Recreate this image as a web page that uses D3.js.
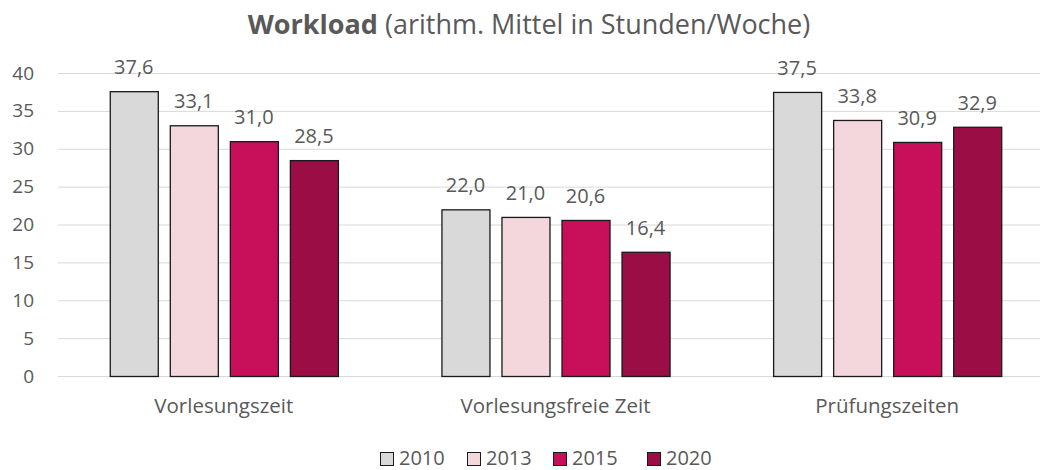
<!DOCTYPE html>
<html>
<head>
<meta charset="utf-8">
<script src="https://cdn.jsdelivr.net/npm/d3@7"></script>
<style>
  body { margin: 0; background: #fff; }
  text { font-family: "Open Sans", "Noto Sans", sans-serif; fill: #595959; }
</style>
</head>
<body>
<svg id="canvas" width="1040" height="470"></svg>
<script>
const categories = ['Vorlesungszeit', 'Vorlesungsfreie Zeit', 'Prüfungszeiten'];
const years = ['2010', '2013', '2015', '2020'];
const values2010 = [37.6, 22.0, 37.5];
const values2013 = [33.1, 21.0, 33.8];
const values2015 = [31.0, 20.6, 30.9];
const values2020 = [28.5, 16.4, 32.9];
const yTicks = [0, 5, 10, 15, 20, 25, 30, 35, 40];
const colors = ['#d9d9d9', '#f4d7dc', '#c8105a', '#9b0d45'];

const series = [values2010, values2013, values2015, values2020];

const svg = d3.select('#canvas');
const plotLeft = 58, plotRight = 1053, plotTop = 73, plotBottom = 376;

const x = d3.scaleBand().domain(categories).range([plotLeft, plotRight]);
const xInner = d3.scaleBand().domain(years)
  .range([0, x.bandwidth()]).paddingInner(0.2).paddingOuter(0.8625);
const y = d3.scaleLinear().domain([0, 40]).range([plotBottom, plotTop]);

// gridlines
svg.append('g').selectAll('line').data(yTicks).join('line')
  .attr('x1', plotLeft).attr('x2', 1040)
  .attr('y1', d => y(d) + 0.5).attr('y2', d => y(d) + 0.5)
  .attr('stroke', '#d9d9d9').attr('stroke-width', 1);

// y axis
const yAxis = svg.append('g')
  .attr('transform', 'translate(' + plotLeft + ',0)')
  .call(d3.axisLeft(y).tickValues(yTicks).tickSize(0).tickPadding(24));
yAxis.select('.domain').remove();
yAxis.selectAll('text').style('font-size', '19px')
  .style('font-family', '"Open Sans", sans-serif').attr('fill', '#595959');

// x axis labels
const xAxis = svg.append('g')
  .attr('transform', 'translate(0,' + plotBottom + ')')
  .call(d3.axisBottom(x).tickSize(0).tickPadding(22));
xAxis.select('.domain').remove();
xAxis.selectAll('text').style('font-size', '20.5px')
  .style('font-family', '"Open Sans", sans-serif').attr('fill', '#595959');

// bars
const groups = svg.append('g').selectAll('g').data(categories).join('g')
  .attr('transform', d => 'translate(' + x(d) + ',0)');

groups.each(function (cat, ci) {
  const g = d3.select(this);
  const data = years.map((yr, si) => ({ yr: yr, v: series[si][ci], c: colors[si] }));
  g.selectAll('rect').data(data).join('rect')
    .attr('x', d => xInner(d.yr) + 0.5)
    .attr('y', d => y(d.v) + 0.5)
    .attr('width', xInner.bandwidth())
    .attr('height', d => plotBottom - y(d.v))
    .attr('fill', d => d.c)
    .attr('stroke', '#1a1a1a').attr('stroke-width', 1.3);
  g.selectAll('text').data(data).join('text')
    .attr('x', d => xInner(d.yr) + xInner.bandwidth() / 2)
    .attr('y', d => y(d.v) - 17)
    .attr('text-anchor', 'middle')
    .style('font-size', '20px')
    .text(d => d3.format('.1f')(d.v).replace('.', ','));
});

// title
const title = svg.append('text')
  .attr('x', 529).attr('y', 34).attr('text-anchor', 'middle')
  .style('font-size', '27px');
title.append('tspan').attr('font-weight', 'bold').text('Workload');
title.append('tspan').text(' (arithm. Mittel in Stunden/Woche)');

// legend
const legendX = [380, 467, 553, 647];
const legend = svg.append('g').selectAll('g').data(years).join('g')
  .attr('transform', (d, i) => 'translate(' + legendX[i] + ',452)');
legend.append('rect')
  .attr('x', 0.5).attr('y', 0.5).attr('width', 13).attr('height', 13)
  .attr('fill', (d, i) => colors[i]).attr('stroke', '#1a1a1a');
legend.append('text')
  .attr('x', 19).attr('y', 13)
  .style('font-size', '20px')
  .text(d => d);
</script>
</body>
</html>
